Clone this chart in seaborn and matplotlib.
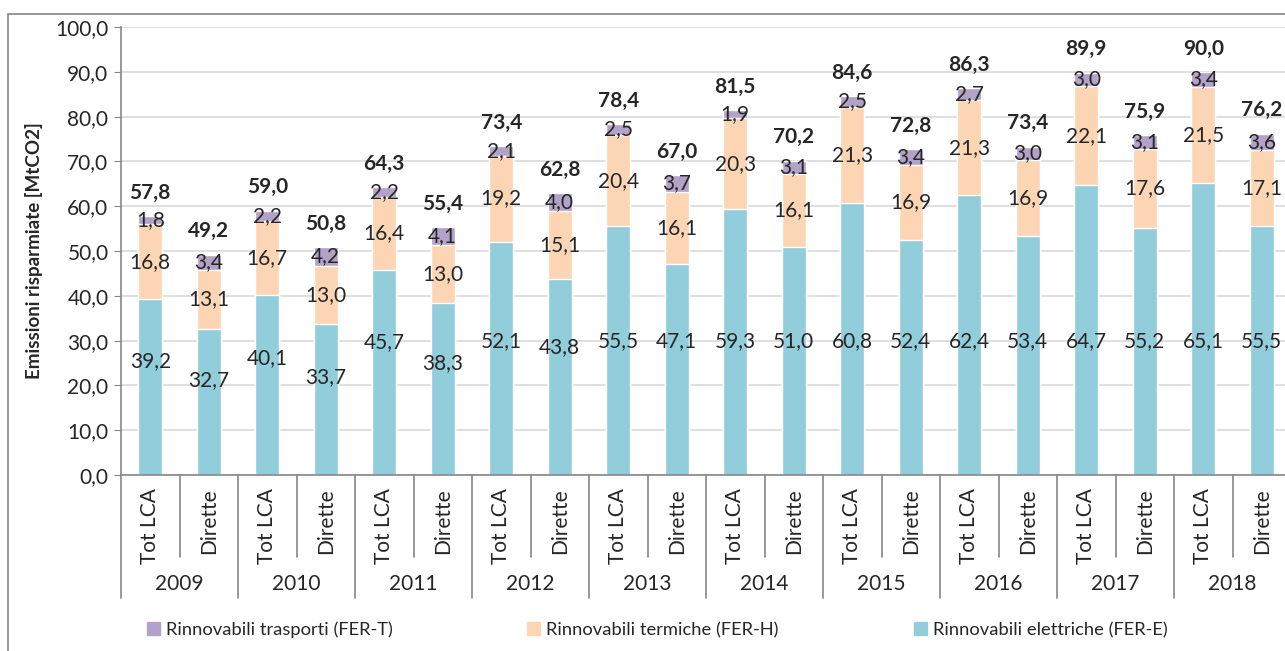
import pandas as pd
import numpy as np
import matplotlib
matplotlib.use("Agg")
import matplotlib.pyplot as plt
import seaborn as sns
from matplotlib.ticker import FuncFormatter, MultipleLocator
from matplotlib.patches import Rectangle, Patch

# dati
anni = ["2009", "2010", "2011", "2012", "2013", "2014", "2015", "2016", "2017", "2018"]
tipi = ["Tot LCA", "Dirette"]
fer_e = [39.2, 32.7, 40.1, 33.7, 45.7, 38.3, 52.1, 43.8, 55.5, 47.1,
         59.3, 51.0, 60.8, 52.4, 62.4, 53.4, 64.7, 55.2, 65.1, 55.5]
fer_h = [16.8, 13.1, 16.7, 13.0, 16.4, 13.0, 19.2, 15.1, 20.4, 16.1,
         20.3, 16.1, 21.3, 16.9, 21.3, 16.9, 22.1, 17.6, 21.5, 17.1]
fer_t = [1.8, 3.4, 2.2, 4.2, 2.2, 4.1, 2.1, 4.0, 2.5, 3.7,
         1.9, 3.1, 2.5, 3.4, 2.7, 3.0, 3.0, 3.1, 3.4, 3.6]
totali = [57.8, 49.2, 59.0, 50.8, 64.3, 55.4, 73.4, 62.8, 78.4, 67.0,
          81.5, 70.2, 84.6, 72.8, 86.3, 73.4, 89.9, 75.9, 90.0, 76.2]
serie = ["Rinnovabili trasporti (FER-T)", "Rinnovabili termiche (FER-H)",
         "Rinnovabili elettriche (FER-E)"]

col_e = "#92CDDC"
col_h = "#FCD5B5"
col_t = "#B3A2C7"

def fmt(v):
    return f"{v:.1f}".replace(".", ",")

df = pd.DataFrame({
    "anno": np.repeat(anni, 2),
    "tipo": tipi * len(anni),
    "E": fer_e, "H": fer_h, "T": fer_t,
})
df["key"] = df["anno"] + " " + df["tipo"]
df["EH"] = df["E"] + df["H"]
df["EHT"] = df["EH"] + df["T"]
ordine = list(df["key"])

sns.set_style("white")
plt.rcParams["font.family"] = ["Lato", "DejaVu Sans"]

W, H = 1285, 651
fig = plt.figure(figsize=(W / 100, H / 100), dpi=100)
ax = fig.add_axes([121 / W, (H - 475) / H, 1170 / W, 448 / H])

sns.barplot(data=df, x="key", y="EHT", order=ordine, color=col_t, width=0.41,
            saturation=1, ax=ax, zorder=2)
sns.barplot(data=df, x="key", y="EH", order=ordine, color=col_h, width=0.41,
            saturation=1, ax=ax, zorder=3)
sns.barplot(data=df, x="key", y="E", order=ordine, color=col_e, width=0.41,
            saturation=1, ax=ax, zorder=4)

fs = 15
ax.set_xlim(-0.5, len(ordine) - 0.5)
ax.set_ylim(0, 100)
ax.yaxis.set_major_locator(MultipleLocator(10))
ax.yaxis.set_major_formatter(FuncFormatter(lambda v, p: fmt(v)))
ax.grid(axis="y", color="#d9d9d9", lw=1.2, zorder=0)
ax.set_axisbelow(True)
for s in ["top", "right"]:
    ax.spines[s].set_visible(False)
for s in ["left", "bottom"]:
    ax.spines[s].set_color("#868686")
    ax.spines[s].set_linewidth(1.2)
    ax.spines[s].set_zorder(5)
ax.tick_params(axis="y", left=True, length=5, color="#868686", labelsize=fs, pad=4)
ax.tick_params(axis="x", bottom=False, labelbottom=False)
ax.set_xlabel("")
ax.set_ylabel("Emissioni risparmiate [MtCO2]", fontsize=13.5, fontweight="bold", labelpad=9)

for i in range(len(ordine)):
    e, h, t = fer_e[i], fer_h[i], fer_t[i]
    ax.text(i, min(0.65 * e, 30), fmt(e), ha="center", va="center", fontsize=fs, zorder=6)
    ax.text(i, e + h / 2, fmt(h), ha="center", va="center", fontsize=fs, zorder=6)
    ax.text(i, e + h + t / 2, fmt(t), ha="center", va="center", fontsize=fs, zorder=6)
    ax.text(i, totali[i] + 5.2, fmt(totali[i]), ha="center", va="center",
            fontsize=fs, fontweight="bold", zorder=6)

# asse x a due livelli
trans = ax.get_xaxis_transform()
px = 1 / 448
for i in range(len(ordine) + 1):
    xb = i - 0.5
    lungo = (i % 2 == 0)
    y1 = -123 * px if lungo else -82 * px
    ax.plot([xb, xb], [0, y1], color="#868686", lw=1.2, transform=trans, clip_on=False)
for i, k in enumerate(ordine):
    ax.text(i, -13 * px, df["tipo"][i], rotation=90, ha="center", va="top",
            fontsize=fs, transform=trans)
for j, a in enumerate(anni):
    ax.text(2 * j + 0.5, -109 * px, a, ha="center", va="center", fontsize=fs, transform=trans)

# bordo esterno
fig.patches.append(Rectangle((8 / W, -0.05), 1.2, 1 - 14 / H + 0.05, transform=fig.transFigure,
                             fill=False, edgecolor="#868686", lw=1.2))

handles = [Patch(color=col_t), Patch(color=col_h), Patch(color=col_e)]
for hnd, lab, x0 in zip(handles, serie, [140, 520, 907]):
    fig.legend([hnd], [lab], loc="center left", bbox_to_anchor=(x0 / W, 1 - 630 / H),
               frameon=False, fontsize=13.2, handlelength=0.7, handleheight=0.7,
               handletextpad=0.3, borderaxespad=0)

fig.savefig("out.png", dpi=100)
